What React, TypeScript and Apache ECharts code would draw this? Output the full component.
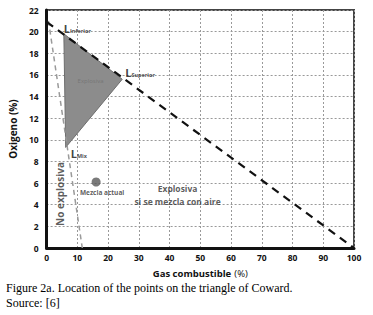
import React, { useEffect, useRef } from "react";
import * as echarts from "echarts";

// Data (gas %, oxygen %)
const airLine: number[][] = [[0, 20.9], [100, 0]];
const nonExplosiveLine: number[][] = [[0.6, 21], [11.6, 0]];
const triangle: number[][] = [[5.6, 19.8], [24.6, 15.6], [6.2, 9.3]];
const vertexNames: string[] = ["Inferior", "Superior", "Mix"];
const currentMix: number[] = [16.1, 6.1];
const xTicks: number[] = [0, 10, 20, 30, 40, 50, 60, 70, 80, 90, 100];
const yTicks: number[] = [0, 2, 4, 6, 8, 10, 12, 14, 16, 18, 20, 22];

const FONT = "'Open Sans', 'Noto Sans', sans-serif";

export default function App() {
  const ref = useRef<HTMLDivElement>(null);
  useEffect(() => {
    if (!ref.current) return;
    const chart = echarts.init(ref.current, null, { renderer: "svg" });
    const vertexLabelCfg = [
      { position: "right", offset: [-5, -5] },
      { position: "right", offset: [-2, -7] },
      { position: "right", offset: [0, 6] },
    ];
    chart.setOption({
      animation: false,
      backgroundColor: "#ffffff",
      textStyle: { fontFamily: FONT },
      grid: {
        left: 44,
        right: 19,
        top: 10,
        bottom: 67,
        show: true,
        borderColor: "#444",
        borderWidth: 2,
      },
      xAxis: {
        type: "value",
        min: xTicks[0],
        max: xTicks[xTicks.length - 1],
        interval: 10,
        name: "{b|Gas combustible} {r|(%)}",
        nameLocation: "middle",
        nameGap: 19,
        nameTextStyle: {
          rich: {
            b: { fontWeight: "bold", fontSize: 9.5, color: "#111", fontFamily: FONT },
            r: { fontSize: 9.5, color: "#111", fontFamily: FONT },
          },
        },
        axisLine: { show: true, lineStyle: { color: "#111", width: 3 } },
        axisTick: { show: false },
        axisLabel: { fontWeight: "bold", fontSize: 8.5, color: "#111", margin: 5, fontFamily: FONT },
        splitLine: { show: true, lineStyle: { color: "#999", width: 1, type: [2, 2] } },
      },
      yAxis: {
        type: "value",
        min: yTicks[0],
        max: yTicks[yTicks.length - 1],
        interval: 2,
        name: "Oxigeno (%)",
        nameLocation: "middle",
        nameGap: 26,
        nameTextStyle: { fontWeight: "bold", fontSize: 10, color: "#111", fontFamily: FONT },
        axisLine: { show: true, lineStyle: { color: "#111", width: 3 } },
        axisTick: { show: false },
        axisLabel: { fontWeight: "bold", fontSize: 8.5, color: "#111", margin: 8, fontFamily: FONT },
        splitLine: { show: true, lineStyle: { color: "#999", width: 1, type: [2, 2] } },
      },
      series: [
        {
          type: "custom",
          name: "triangle",
          coordinateSystem: "cartesian2d",
          data: [triangle[0]],
          renderItem: (params: any, api: any) => {
            const pts = triangle.map((p) => api.coord(p));
            return {
              type: "polygon",
              shape: { points: pts },
              style: { fill: "#8c8c8c", stroke: "#6e6e6e", lineWidth: 1 },
            };
          },
          z: 2,
        },
        {
          type: "line",
          data: nonExplosiveLine,
          symbol: "none",
          lineStyle: { color: "#9a9a9a", width: 1.5, type: [5, 4] },
          z: 3,
        },
        {
          type: "line",
          data: airLine,
          symbol: "none",
          lineStyle: { color: "#111", width: 2.2, type: [8, 6] },
          z: 4,
        },
        {
          type: "scatter",
          data: triangle.map((p, i) => ({
            value: p,
            name: vertexNames[i],
            label: {
              show: true,
              color: "#111",
              position: vertexLabelCfg[i].position,
              offset: vertexLabelCfg[i].offset,
              formatter: "{L|L}{s|" + vertexNames[i] + "}",
              rich: {
                L: { fontWeight: "bold", fontSize: 11, color: "#111", fontFamily: FONT },
                s: { fontSize: 5.5, fontWeight: "bold", color: "#222", fontFamily: FONT, padding: [5, 0, 0, 0] },
              },
            },
          })),
          symbolSize: 0,
          itemStyle: { color: "#111" },
          z: 6,
        },
        {
          type: "scatter",
          data: [
            {
              value: currentMix,
              label: {
                show: true,
                position: "bottom",
                offset: [6, -3],
                formatter: "Mezcla actual",
                fontSize: 6.5,
                fontWeight: "bold",
                color: "#333",
                fontFamily: FONT,
              },
            },
          ],
          symbol: "circle",
          symbolSize: 9,
          itemStyle: { color: "#595959" },
          z: 7,
        },
        {
          type: "scatter",
          symbolSize: 0,
          itemStyle: { color: "#333" },
          z: 8,
          data: [
            {
              value: [14.3, 15.4],
              label: {
                show: true,
                position: "inside",
                formatter: "Explosiva",
                fontSize: 6,
                color: "#6f6f6f",
                fontFamily: FONT,
              },
            },
            {
              value: [42.6, 4.9],
              label: {
                show: true,
                position: "inside",
                formatter: "Explosiva\nsi se mezcla con aire",
                fontSize: 8.5,
                lineHeight: 13,
                fontWeight: "bold",
                color: "#333",
                align: "center",
                fontFamily: FONT,
              },
            },
            {
              value: [4.2, 5.0],
              label: {
                show: true,
                position: "inside",
                formatter: "No explosiva",
                rotate: 90,
                fontSize: 10,
                fontWeight: "bold",
                color: "#333",
                fontFamily: FONT,
              },
            },
          ],
        },
      ],
      graphic: [
        {
          type: "text",
          left: 6,
          top: 282,
          style: {
            text: "Figure 2a. Location of the points on the triangle of Coward.",
            font: "12px 'Liberation Serif', 'Times New Roman', serif",
            fill: "#000",
          },
        },
        {
          type: "text",
          left: 6,
          top: 297,
          style: {
            text: "Source: [6]",
            font: "12px 'Liberation Serif', 'Times New Roman', serif",
            fill: "#000",
          },
        },
      ],
    });
    return () => chart.dispose();
  }, []);
  return (
    <div
      ref={ref}
      style={{ position: "fixed", left: 0, top: 0, width: 373, height: 315, background: "#fff" }}
    />
  );
}
